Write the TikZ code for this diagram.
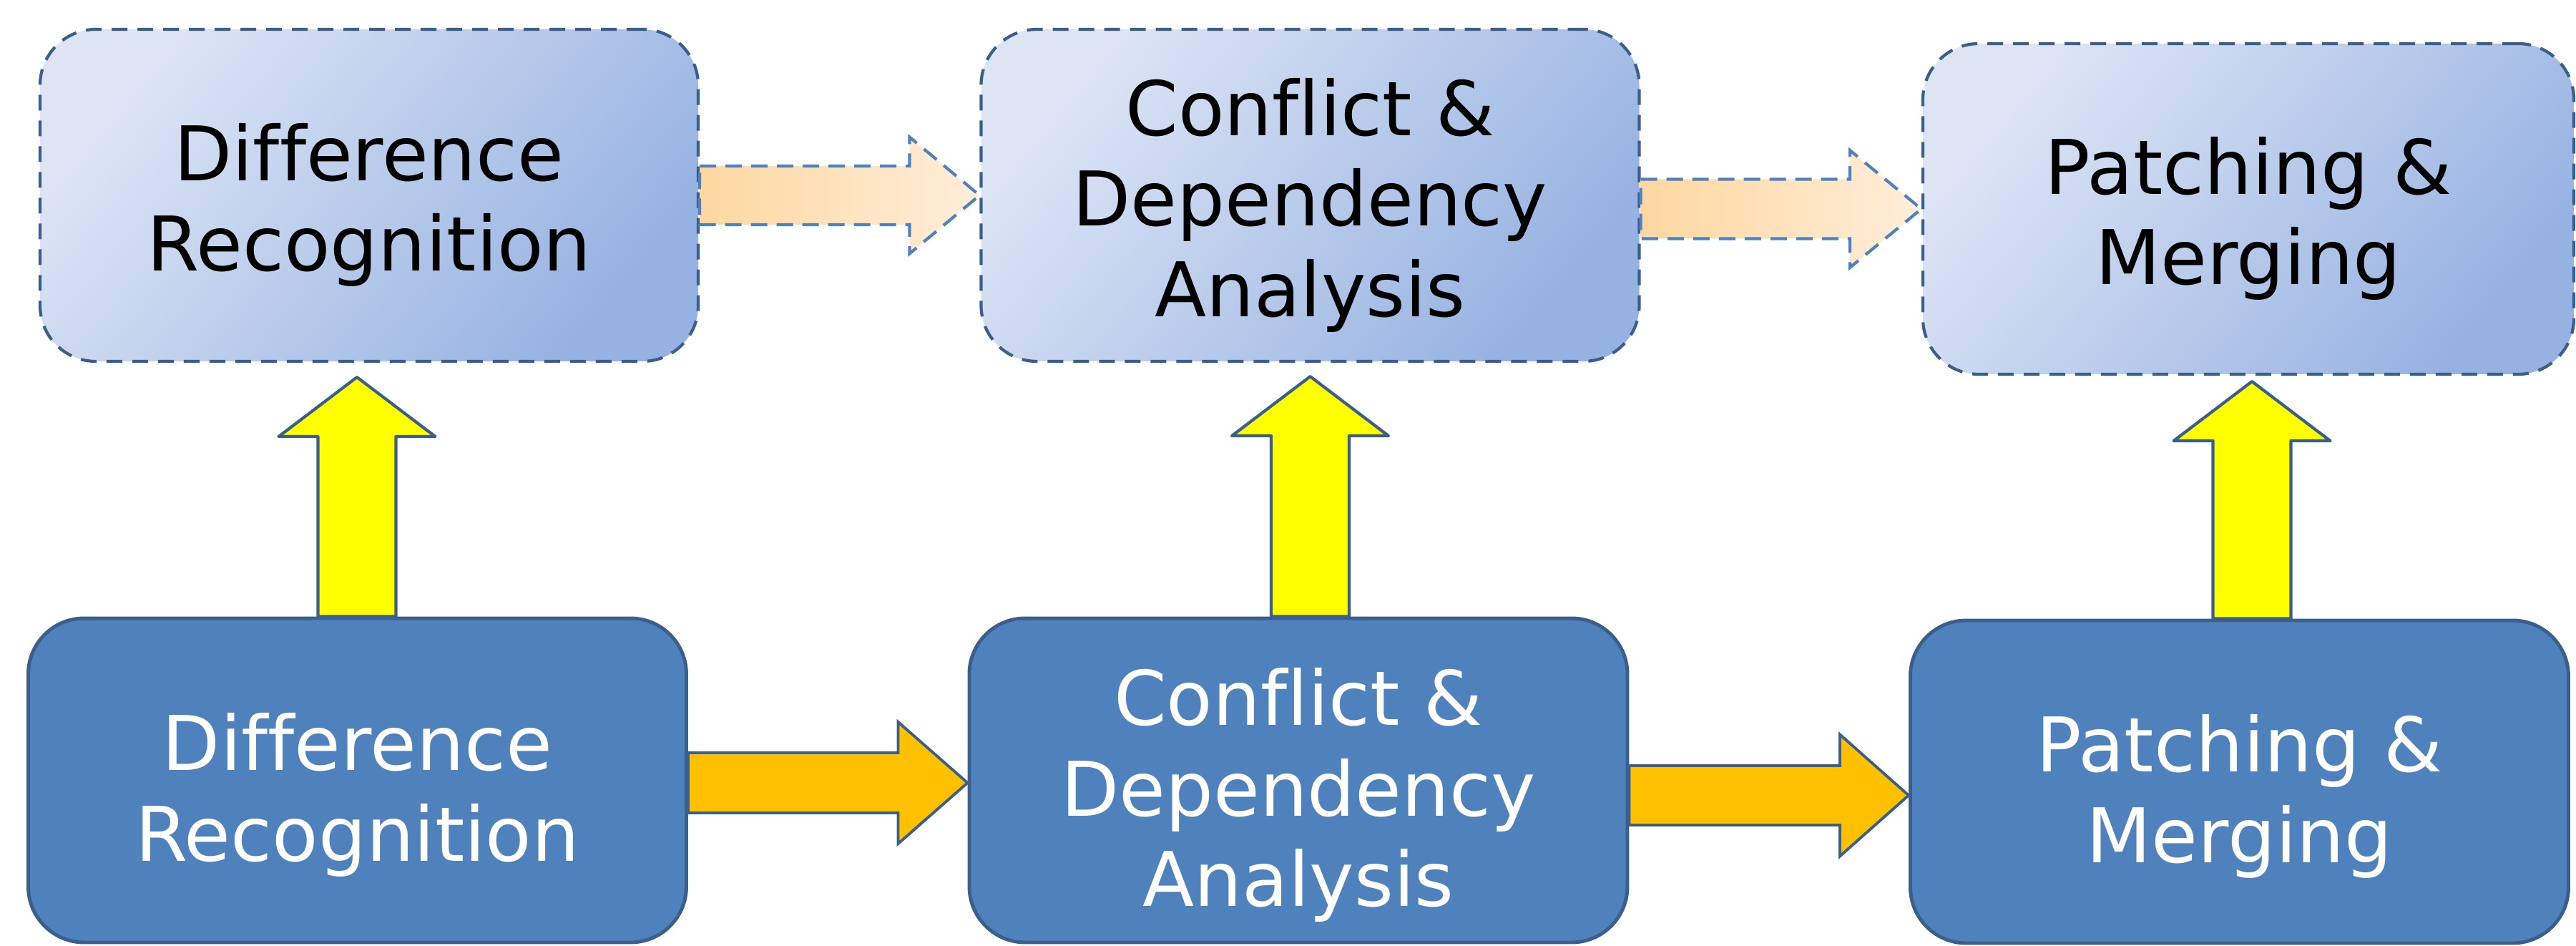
\documentclass[tikz,border=0pt]{standalone}
\usepackage{fontspec}
\setmainfont{DejaVu Sans}[Ligatures = NoCommon]
\usepackage{tikz}
\usetikzlibrary{calc, shapes, arrows}
\definecolor{boxblue}{RGB}{79, 129, 189}
\definecolor{boxedge}{RGB}{58, 95, 139}
\definecolor{paleblue}{RGB}{221, 229, 245}
\definecolor{midblue}{RGB}{150, 178, 226}
\definecolor{dashblue}{RGB}{79, 129, 189}
\definecolor{paleorange}{RGB}{253, 215, 160}
\definecolor{lightorange}{RGB}{255, 238, 218}
\definecolor{arrowgold}{RGB}{255, 192, 0}
\definecolor{arrowyellow}{RGB}{255, 255, 0}
\newcommand{\topgap}{\rule{0pt}{30.5pt}}
\newcommand{\botgap}{\rule{0pt}{34.5pt}}

\tikzset{
  stagebox/.style = {rectangle, rounded corners = 0.78cm, minimum width = 9.2cm, minimum height = 4.53cm, inner sep = 0, align = center, font = \fontsize{30}{36}\selectfont},
  solidstage/.style = {stagebox, fill = boxblue, draw = boxedge, line width = 1.4pt, text = white},
  dashstage/.style = {stagebox, minimum height = 4.64cm, draw = boxedge, line width = 1.2pt, dash pattern = on 0.22cm off 0.14cm, top color = paleblue, bottom color = midblue, shading angle = 50, text = black},
  flowarrow/.style = {fill = arrowgold, draw = boxedge, line width = 1.1pt},
  liftarrow/.style = {fill = arrowyellow, draw = boxedge, line width = 1.2pt, line join = round},
  ghostarrow/.style = {left color = paleorange, right color = lightorange, draw = dashblue, line width = 1.2pt, dash pattern = on 0.23cm off 0.13cm}
}

\newcommand{\rightblock}[6]{%
  \path[#1] let \p1 = (#2), \p2 = (#3) in
    (\x1, \y2 + #4) -- (\x2 - #6, \y2 + #4) -- (\x2 - #6, \y2 + #5) -- (\x2, \y2)
    -- (\x2 - #6, \y2 - #5) -- (\x2 - #6, \y2 - #4) -- (\x1, \y2 - #4) -- cycle;}
\newcommand{\upblock}[6]{%
  \path[#1] let \p1 = (#2), \p2 = (#3) in
    (\x2 - #4, \y1) -- (\x2 - #4, \y2 - #6) -- (\x2 - #5, \y2 - #6) -- (\x2, \y2)
    -- (\x2 + #5, \y2 - #6) -- (\x2 + #4, \y2 - #6) -- (\x2 + #4, \y1) -- cycle;}

\begin{document}
\begin{tikzpicture}[scale = 1]
\useasboundingbox (0,0) rectangle (36.01,13.22);
\node[dashstage] (topdiff) at (5.16, 10.49) {\topgap Difference\\Recognition};
\node[dashstage] (topconf) at (18.315, 10.49) {\topgap Conflict \&\\Dependency\\Analysis};
\node[dashstage, minimum width = 9.1cm, minimum height = 4.62cm] (toppatch) at (31.43, 10.30) {\topgap Patching \&\\Merging};
\node[solidstage] (botdiff) at (4.995, 2.315) {\botgap Difference\\Recognition};
\node[solidstage] (botconf) at (18.15, 2.315) {\botgap Conflict \&\\Dependency\\Analysis};
\node[solidstage, minimum height = 4.51cm] (botpatch) at (31.305, 2.295) {\botgap Patching \&\\Merging};
\rightblock{ghostarrow}{topdiff.east}{topconf.west}{0.41cm}{0.815cm}{0.98cm}
\rightblock{ghostarrow}{topconf.east}{toppatch.west}{0.415cm}{0.82cm}{1.0cm}
\rightblock{flowarrow}{botdiff.east}{$(botconf.west) + (0, -0.035)$}{0.42cm}{0.85cm}{0.97cm}
\rightblock{flowarrow}{botconf.east}{$(botpatch.west) + (0, -0.19)$}{0.415cm}{0.85cm}{0.96cm}
\upblock{liftarrow}{botdiff.north}{$(topdiff.south) + (-0.17, -0.2)$}{0.545cm}{1.095cm}{0.83cm}
\upblock{liftarrow}{botconf.north}{$(topconf.south) + (0, -0.19)$}{0.545cm}{1.095cm}{0.83cm}
\upblock{liftarrow}{botpatch.north}{$(toppatch.south) + (0.05, -0.08)$}{0.545cm}{1.095cm}{0.83cm}
\end{tikzpicture}
\end{document}
